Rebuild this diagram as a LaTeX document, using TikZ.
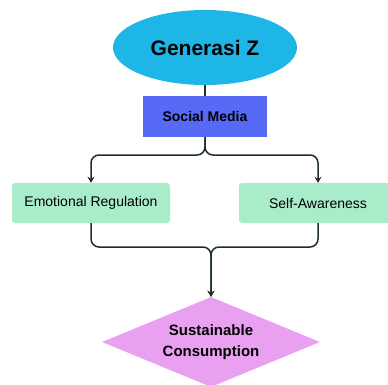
\documentclass[tikz,border=0pt]{standalone}
\usepackage{fontspec}
\setmainfont{Liberation Sans}
\usetikzlibrary{shapes.geometric,arrows.meta}

\definecolor{gzcyan}{RGB}{30,182,230}
\definecolor{smblue}{RGB}{88,106,245}
\definecolor{boxgreen}{RGB}{168,236,202}
\definecolor{scviolet}{RGB}{234,160,240}
\definecolor{linkdark}{RGB}{28,48,38}

\begin{document}
\begin{tikzpicture}[x=1pt,y=-1pt,
  link/.style={draw=linkdark,line width=1.5pt,rounded corners=8pt},
  flow/.style={link,-{Stealth[length=6pt,width=7pt]}},
  factor/.style={fill=boxgreen,rounded corners=3pt,minimum width=158pt,minimum height=40pt,
    inner sep=0pt,font=\fontsize{14}{17}\selectfont}]

  \useasboundingbox (0,0) rectangle (388,385);

  % Generasi Z
  \node [ellipse,fill=gzcyan,minimum width=184pt,minimum height=75pt,inner sep=0pt,
    font=\fontsize{21}{25}\selectfont\bfseries] (gz) at (205,47.5) {Generasi Z};
  \node [fill=smblue,minimum width=124pt,minimum height=41pt,inner sep=0pt,
    font=\fontsize{14}{17}\selectfont\bfseries] (sm) at (205,116.5) {Social Media};

  % factors
  \node [factor] (er) at (91,203) {Emotional Regulation};
  \node [factor] (sa) at (318,203) {Self-Awareness};

  % outcome
  \node [diamond,aspect=2.4,fill=scviolet,minimum width=218pt,minimum height=90pt,inner sep=0pt,
    align=center,font=\fontsize{15}{21}\selectfont\bfseries] (sc) at (211,342)
    {Sustainable\\Consumption};

  \coordinate (split) at (205,155);
  \coordinate (join) at (211,247);

  \draw [link] (gz) -- (sm);
  \draw [flow] (sm.south) -- (split) -| (er.north);
  \draw [flow] (sm.south) -- (split) -| (sa.north);
  \draw [flow] (er.south) |- (join) -- (sc.north);
  \draw [flow] (sa.south) |- (join) -- (sc.north);

\end{tikzpicture}
\end{document}
